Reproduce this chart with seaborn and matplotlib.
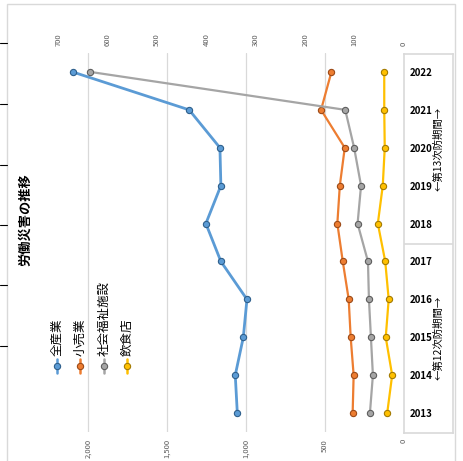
import numpy as np
import pandas as pd
import matplotlib
matplotlib.use('Agg')
import matplotlib.pyplot as plt
from matplotlib.lines import Line2D
from matplotlib.patches import Rectangle
import seaborn as sns

# data
years = [2013, 2014, 2015, 2016, 2017, 2018, 2019, 2020, 2021, 2022]
all_ind = [1055, 1068, 1017, 994, 1159, 1254, 1159, 1165, 1360, 2097]
retail = [104, 102, 108, 112, 124, 135, 130, 120, 168, 147]
welfare = [69, 63, 67, 71, 73, 94, 87, 101, 119, 635]
food = [34, 24, 37, 31, 38, 53, 43, 39, 40, 40]

series_names = ['全産業', '小売業', '社会福祉施設', '飲食店']
colors = ['#5B9BD5', '#ED7D31', '#A5A5A5', '#FFC000']
edges = ['#2E5F8C', '#9C4A17', '#5E5E5E', '#A37A00']

bottom_ticks = [0, 500, 1000, 1500, 2000]
top_ticks = [0, 100, 200, 300, 400, 500, 600, 700]
periods = ['←第12次防期間→', '←第13次防期間→']

sns.set_theme(style='white')
plt.rcParams['font.family'] = ['Noto Sans CJK JP', 'DejaVu Sans']

W, H = 463, 461
fig = plt.figure(figsize=(W / 100, H / 100), dpi=100)


def fx(px):
    return px / W


def fy(py):
    return 1 - py / H


# chart border (light gray frame, runs off the bottom)
fig.add_artist(Rectangle((fx(7), -0.05), fx(455 - 7), fy(4) + 0.05,
                         transform=fig.transFigure, fill=False,
                         ec='#D9D9D9', lw=1))
for py in [43, 104, 165, 225, 285, 346]:
    fig.add_artist(Line2D([0, fx(7)], [fy(py), fy(py)],
                          transform=fig.transFigure, color='black', lw=0.8))

ax = fig.add_axes([fx(9), fy(432), fx(404 - 9), fy(53) - fy(432)])
ax2 = ax.twiny()

df = pd.DataFrame({'year': years, '全産業': all_ind, '小売業': retail,
                   '社会福祉施設': welfare, '飲食店': food})

sns.lineplot(data=df, x='全産業', y='year', orient='y', ax=ax,
             color=colors[0], lw=2, marker='o', markersize=4.5,
             markeredgecolor=edges[0], markeredgewidth=0.8)
for name, c, e in zip(series_names[1:], colors[1:], edges[1:]):
    sns.lineplot(data=df, x=name, y='year', orient='y', ax=ax2,
                 color=c, lw=1.6, marker='o', markersize=4.5,
                 markeredgecolor=e, markeredgewidth=0.8)

ax.set_xlim(2500, 0)
ax2.set_xlim(800, 0)
ax.set_ylim(2012.5, 2022.5)
ax.set_yticks([])
ax.set_xlabel('')
ax.set_ylabel('')
ax2.set_xlabel('')

ax.set_xticks(bottom_ticks)
ax.set_xticklabels([f'{v:,}' for v in bottom_ticks], rotation=90,
                   fontsize=5.5, color='#595959')
ax2.set_xticks(top_ticks)
ax2.set_xticklabels([str(v) for v in top_ticks], rotation=90,
                    fontsize=5.5, color='#595959')
ax.tick_params(axis='x', length=0, pad=5)
ax2.tick_params(axis='x', length=0, pad=5)
ax.grid(False)
ax2.grid(False)
for v in bottom_ticks[1:]:
    ax.axvline(v, color='#D9D9D9', lw=0.9, zorder=0)
for s in ax.spines.values():
    s.set_visible(False)
for s in ax2.spines.values():
    s.set_visible(False)
ax.patch.set_alpha(0)

# year table on the right
tax = fig.add_axes([fx(404), fy(433), fx(453 - 404), fy(54) - fy(433)])
tax.set_xlim(0, 1)
tax.set_ylim(2012.5, 2022.5)
tax.set_xticks([])
tax.set_yticks([])
tax.patch.set_alpha(0)
for s in tax.spines.values():
    s.set_color('#D9D9D9')
    s.set_linewidth(1.2)
tax.axhline(2017.5, color='#D9D9D9', lw=1.2)
for y in years:
    tax.text(0.12, y, str(y), ha='left', va='center', fontsize=7,
             fontweight='bold', color='black')
tax.text(0.7, 2015, periods[0], rotation=90, ha='center', va='center',
         fontsize=7.5, color='black')
tax.text(0.7, 2020, periods[1], rotation=90, ha='center', va='center',
         fontsize=7.5, color='black')

# title
fig.text(fx(25), fy(220), '労働災害の推移', rotation=90, ha='center',
         va='center', fontsize=9.5, fontweight='bold', color='black')

# legend, drawn by hand since the entries are rotated
for i, (name, c, e) in enumerate(zip(series_names, colors, edges)):
    lx = fx(57 + i * 23.3)
    fig.add_artist(Line2D([lx, lx], [fy(373), fy(359)],
                          transform=fig.transFigure, color=c, lw=1.8))
    fig.add_artist(Line2D([lx], [fy(366)], transform=fig.transFigure,
                          marker='o', markersize=4.5, color=c,
                          markeredgecolor=e, markeredgewidth=0.8))
    fig.text(lx, fy(356), name, rotation=90, ha='center', va='bottom',
             fontsize=9, color='black')

fig.savefig('out.png', dpi=100)
